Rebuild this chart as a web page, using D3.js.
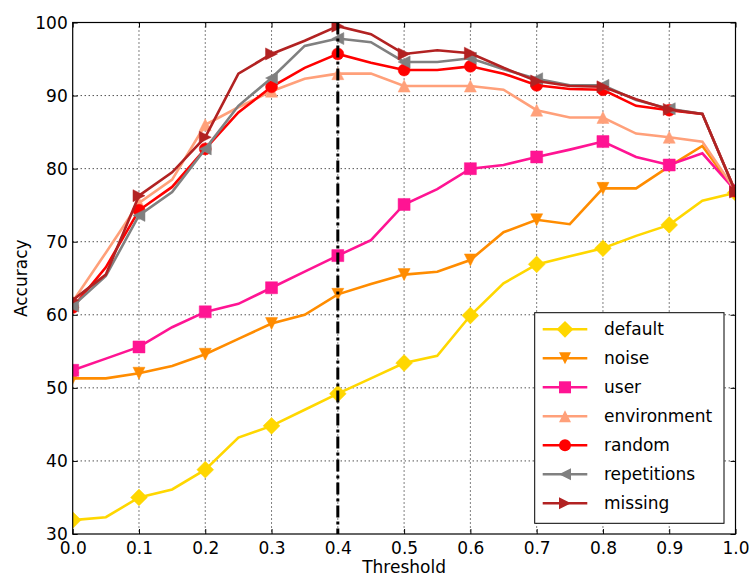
<!DOCTYPE html>
<html>
<head>
<meta charset="utf-8">
<script src="https://cdn.jsdelivr.net/npm/d3@7"></script>
<style>
body { margin: 0; background: #fff; }
text { font-family: "DejaVu Sans", sans-serif; font-size: 17px; fill: #000; }
</style>
</head>
<body>
<div class="svg-container"></div>
<script>
// canvas and plot box
var pageWidth = 749,
	pageHeight = 576,
	margin = { top: 22.5, right: 13.5, bottom: 42, left: 72.7 },
	width = pageWidth - margin.left - margin.right,
	height = pageHeight - margin.top - margin.bottom;

// data
var thresholds = [0.0, 0.05, 0.1, 0.15, 0.2, 0.25, 0.3, 0.35, 0.4, 0.45, 0.5, 0.55, 0.6, 0.65, 0.7, 0.75, 0.8, 0.85, 0.9, 0.95, 1.0];
var xTicks = [0.0, 0.1, 0.2, 0.3, 0.4, 0.5, 0.6, 0.7, 0.8, 0.9, 1.0];
var yTicks = [30, 40, 50, 60, 70, 80, 90, 100];

var defaultAcc     = [31.9, 32.3, 35.0, 36.1, 38.8, 43.2, 44.8, 47.0, 49.2, 51.3, 53.4, 54.4, 59.9, 64.3, 66.9, 68.0, 69.1, 70.8, 72.3, 75.6, 76.7];
var noiseAcc       = [51.3, 51.3, 52.0, 53.0, 54.6, 56.7, 58.8, 60.0, 62.8, 64.2, 65.5, 65.9, 67.5, 71.3, 73.0, 72.4, 77.3, 77.3, 80.3, 83.1, 76.9];
var userAcc        = [52.4, 54.0, 55.6, 58.3, 60.4, 61.5, 63.7, 65.9, 68.1, 70.2, 75.1, 77.2, 80.0, 80.5, 81.6, 82.6, 83.7, 81.6, 80.5, 82.1, 77.0];
var environmentAcc = [61.8, 68.5, 75.3, 78.5, 86.0, 88.4, 90.6, 92.3, 93.0, 93.0, 91.3, 91.3, 91.3, 90.8, 88.0, 87.0, 87.0, 84.8, 84.3, 83.7, 77.0];
var randomAcc      = [61.0, 66.5, 74.3, 77.5, 82.7, 87.7, 91.2, 93.8, 95.7, 94.5, 93.5, 93.5, 94.0, 93.0, 91.4, 90.9, 90.8, 88.6, 88.0, 87.5, 76.9];
var repetitionsAcc = [61.2, 65.3, 73.6, 76.8, 82.7, 88.6, 92.4, 96.8, 97.8, 97.3, 94.6, 94.6, 95.1, 93.6, 92.3, 91.4, 91.4, 89.4, 88.2, 87.5, 76.8];
var missingAcc     = [62.0, 65.5, 76.3, 79.5, 84.3, 93.0, 95.7, 97.5, 99.5, 98.4, 95.7, 96.2, 95.8, 93.8, 92.0, 91.3, 91.2, 89.5, 88.1, 87.5, 76.8];

var seriesNames  = ["default", "noise", "user", "environment", "random", "repetitions", "missing"];
var seriesValues = [defaultAcc, noiseAcc, userAcc, environmentAcc, randomAcc, repetitionsAcc, missingAcc];
var colorList    = ["#FFD700", "#FF8C00", "#FF1493", "#FFA07A", "#FF0000", "#808080", "#B22222"];
var markerList   = ["diamond", "triangleDown", "square", "triangleUp", "circle", "triangleLeft", "triangleRight"];

var bestThreshold = 0.4;

var svg = d3.select(".svg-container")
	.append("svg")
	.attr("width", pageWidth)
	.attr("height", pageHeight)
	.append("g")
	.attr("transform", "translate(" + margin.left + "," + margin.top + ")");

// markers and lines get cut at the axes box
svg.append("defs").append("clipPath").attr("id", "plotClip")
	.append("rect").attr("x", 0).attr("y", 0).attr("width", width).attr("height", height);

var xScale = d3.scaleLinear().range([0, width]).domain([0, 1]);
var yScale = d3.scaleLinear().range([height, 0]).domain([30, 100]);

// marker shapes, size s in px
function markerPath(type, s) {
	var h = s / 2;
	if (type == "circle") return d3.symbol().type(d3.symbolCircle).size(Math.PI * h * h)();
	if (type == "square") return "M" + (-h) + "," + (-h) + "H" + h + "V" + h + "H" + (-h) + "Z";
	if (type == "diamond") { var d = h * 1.4; return "M0," + (-d) + "L" + d + ",0L0," + d + "L" + (-d) + ",0Z"; }
	if (type == "triangleUp") return "M0," + (-h) + "L" + h + "," + h + "L" + (-h) + "," + h + "Z";
	if (type == "triangleDown") return "M0," + h + "L" + h + "," + (-h) + "L" + (-h) + "," + (-h) + "Z";
	if (type == "triangleLeft") return "M" + (-h) + ",0L" + h + "," + (-h) + "L" + h + "," + h + "Z";
	if (type == "triangleRight") return "M" + h + ",0L" + (-h) + "," + (-h) + "L" + (-h) + "," + h + "Z";
}

drawGrid();
drawSeries();
drawBestLine();
drawAxes();
drawLegend();

function drawGrid() {
	svg.append("g").selectAll("line.gx").data(xTicks.slice(1, -1))
		.enter().append("line")
		.attr("x1", function(d) { return xScale(d); })
		.attr("x2", function(d) { return xScale(d); })
		.attr("y1", 0).attr("y2", height)
		.attr("stroke", "#000").attr("stroke-width", 1)
		.attr("stroke-dasharray", "1,3");

	svg.append("g").selectAll("line.gy").data(yTicks.slice(1, -1))
		.enter().append("line")
		.attr("y1", function(d) { return yScale(d); })
		.attr("y2", function(d) { return yScale(d); })
		.attr("x1", 0).attr("x2", width)
		.attr("stroke", "#000").attr("stroke-width", 1)
		.attr("stroke-dasharray", "1,3");
}

function drawSeries() {
	var line = d3.line()
		.x(function(d, i) { return xScale(thresholds[i]); })
		.y(function(d) { return yScale(d); });

	for (var k = 0; k < seriesValues.length; k++) {
		var g = svg.append("g").attr("clip-path", "url(#plotClip)");
		g.append("path")
			.datum(seriesValues[k])
			.attr("fill", "none")
			.attr("stroke", colorList[k])
			.attr("stroke-width", 2.6)
			.attr("stroke-linejoin", "miter")
			.attr("d", line);

		// markers only every 0.1
		var pts = seriesValues[k].map(function(v, i) { return { x: thresholds[i], y: v, i: i }; })
			.filter(function(p) { return p.i % 2 == 0; });
		g.selectAll("path.mk").data(pts)
			.enter().append("path")
			.attr("d", markerPath(markerList[k], 12))
			.attr("fill", colorList[k])
			.attr("stroke", colorList[k])
			.attr("stroke-width", 0.5)
			.attr("transform", function(p) { return "translate(" + xScale(p.x) + "," + yScale(p.y) + ")"; });
	}
}

function drawBestLine() {
	svg.append("line")
		.attr("x1", xScale(bestThreshold)).attr("x2", xScale(bestThreshold))
		.attr("y1", 0).attr("y2", height)
		.attr("stroke", "#000")
		.attr("stroke-width", 3)
		.attr("stroke-dasharray", "12,4,3,4");
}

function drawAxes() {
	var xAxis = d3.axisBottom(xScale).tickValues(xTicks).tickSize(-5).tickPadding(10).tickFormat(d3.format(".1f"));
	var yAxis = d3.axisLeft(yScale).tickValues(yTicks).tickSize(-5).tickPadding(10).tickFormat(d3.format("d"));
	var xTop = d3.axisTop(xScale).tickValues(xTicks).tickSize(-5).tickFormat("");
	var yRight = d3.axisRight(yScale).tickValues(yTicks).tickSize(-5).tickFormat("");

	var gx = svg.append("g").attr("transform", "translate(0," + height + ")").call(xAxis);
	var gy = svg.append("g").call(yAxis);
	var gt = svg.append("g").call(xTop);
	var gr = svg.append("g").attr("transform", "translate(" + width + ",0)").call(yRight);

	[gx, gy, gt, gr].forEach(function(g) {
		g.select(".domain").remove();
		g.selectAll("line").attr("stroke", "#000").attr("stroke-width", 1);
		g.selectAll("text").style("font-family", "DejaVu Sans").style("font-size", "17px").attr("fill", "#000");
	});
	gx.selectAll("text").attr("dy", "0.71em").attr("y", 8);
	gy.selectAll("text").attr("x", -5).attr("dy", "0.35em");

	// frame
	svg.append("rect")
		.attr("x", 0).attr("y", 0)
		.attr("width", width).attr("height", height)
		.attr("fill", "none").attr("stroke", "#000").attr("stroke-width", 1.2);

	svg.append("text")
		.attr("x", width / 2)
		.attr("y", height + 39)
		.attr("text-anchor", "middle")
		.text("Threshold");

	svg.append("text")
		.attr("transform", "rotate(-90)")
		.attr("x", -height / 2)
		.attr("y", -46)
		.attr("text-anchor", "middle")
		.text("Accuracy");
}

function drawLegend() {
	var lx = 534.7 - margin.left, ly = 312.7 - margin.top;
	var legend = svg.append("g").attr("transform", "translate(" + lx + "," + ly + ")");
	legend.append("rect")
		.attr("width", 189.3).attr("height", 210.6)
		.attr("fill", "#fff").attr("stroke", "#000").attr("stroke-width", 1);

	var rows = legend.selectAll("g.row").data(seriesNames)
		.enter().append("g")
		.attr("transform", function(d, i) { return "translate(0," + (16.6 + i * 29) + ")"; });
	rows.append("line")
		.attr("x1", 8).attr("x2", 52.6)
		.attr("stroke", function(d, i) { return colorList[i]; })
		.attr("stroke-width", 2.6);
	rows.append("path")
		.attr("d", function(d, i) { return markerPath(markerList[i], 12); })
		.attr("transform", "translate(30.3,0)")
		.attr("fill", function(d, i) { return colorList[i]; });
	rows.append("text")
		.attr("x", 69.3)
		.attr("dy", "0.35em")
		.text(function(d) { return d; });
}
</script>
</body>
</html>
